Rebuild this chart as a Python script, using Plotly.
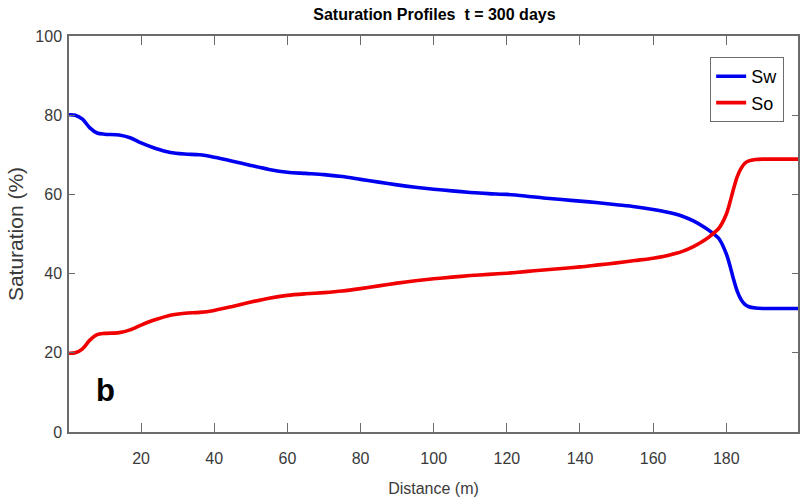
import plotly.graph_objects as go

# Distance along the profile (m)
distance = [0, 2, 4, 6, 8, 10, 14, 17, 20, 24, 28, 32, 36, 40, 45, 50, 55, 60, 65, 70,
            75, 80, 85, 90, 95, 100, 105, 110, 115, 120, 125, 130, 135, 140, 145, 150,
            155, 160, 164, 168, 171, 174, 176, 178, 180, 181, 182, 183, 184, 185, 186,
            188, 190, 200]

# Water saturation (%)
sw = [80.1, 80.0, 79.0, 76.8, 75.5, 75.2, 75.0, 74.3, 73.0, 71.6, 70.6, 70.2, 70.0, 69.4,
      68.4, 67.3, 66.3, 65.6, 65.3, 65.0, 64.5, 63.8, 63.1, 62.4, 61.8, 61.3, 60.9, 60.5,
      60.2, 60.0, 59.6, 59.1, 58.7, 58.3, 57.9, 57.4, 56.9, 56.2, 55.5, 54.5, 53.3, 51.7,
      50.4, 48.8, 45.0, 42.0, 38.5, 35.5, 33.5, 32.3, 31.7, 31.3, 31.2, 31.2]

# Oil saturation (%)
so = [19.9, 20.0, 21.0, 23.2, 24.6, 24.9, 25.1, 25.8, 27.0, 28.4, 29.5, 30.0, 30.2, 30.7,
      31.7, 32.8, 33.8, 34.5, 34.9, 35.2, 35.6, 36.2, 36.9, 37.6, 38.2, 38.7, 39.1, 39.5,
      39.8, 40.1, 40.5, 40.9, 41.3, 41.7, 42.2, 42.7, 43.3, 43.9, 44.6, 45.6, 46.8, 48.4,
      49.8, 51.5, 55.0, 58.0, 61.5, 64.5, 66.5, 67.8, 68.4, 68.8, 68.9, 68.9]

x_ticks = [20, 40, 60, 80, 100, 120, 140, 160, 180]
y_ticks = [0, 20, 40, 60, 80, 100]

FONT = "Liberation Sans, Arial, sans-serif"
TICK_COLOR = "#3a3a3a"
AXIS_COLOR = "#6b6b6b"

fig = go.Figure()
fig.add_trace(go.Scatter(x=distance, y=sw, mode="lines", name="Sw",
                         line=dict(color="#0000f0", width=3.6, shape="spline", smoothing=0.8)))
fig.add_trace(go.Scatter(x=distance, y=so, mode="lines", name="So",
                         line=dict(color="#f00000", width=3.6, shape="spline", smoothing=0.8)))

axis_common = dict(
    showline=True, linecolor=AXIS_COLOR, linewidth=1.5, mirror="ticks",
    ticks="inside", tickcolor=AXIS_COLOR, tickwidth=1.2,
    showgrid=False, zeroline=False,
    tickfont=dict(family=FONT, size=16, color=TICK_COLOR),
)

fig.update_xaxes(range=[0.3, 199.6], tickvals=x_ticks, ticklen=9, ticklabelstandoff=11,
                 title=dict(text="Distance (m)", font=dict(family=FONT, size=16, color=TICK_COLOR),
                            standoff=17),
                 **axis_common)
fig.update_yaxes(range=[0, 100], tickvals=y_ticks, ticklen=6, ticklabelstandoff=2,
                 title=dict(text="Saturation (%)", font=dict(family=FONT, size=21, color=TICK_COLOR),
                            standoff=6),
                 **axis_common)

fig.add_annotation(x=0.0506, y=0.106, xref="paper", yref="paper", text="<b>b</b>",
                   xanchor="center", yanchor="middle",
                   showarrow=False, font=dict(family=FONT, size=31, color="black"))

fig.update_layout(
    width=803, height=502,
    margin=dict(l=69, r=3, t=36, b=70),
    paper_bgcolor="white", plot_bgcolor="white",
    title=dict(text="<b>Saturation Profiles&nbsp;&nbsp;t = 300 days</b>", x=0.541, xanchor="center",
               y=0.972, yanchor="middle",
               font=dict(family=FONT, size=16, color="black")),
    legend=dict(x=0.981, xanchor="right", y=0.947, yanchor="top",
                bgcolor="white", bordercolor=AXIS_COLOR, borderwidth=1,
                font=dict(family=FONT, size=18, color="black"),
                tracegroupgap=0, itemwidth=30),
    showlegend=True,
)

fig.write_html("out.html")
